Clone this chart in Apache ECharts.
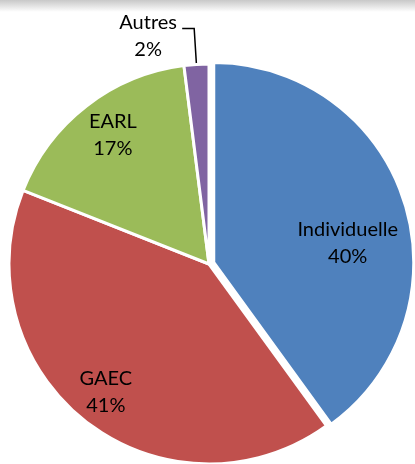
<!DOCTYPE html>
<html>
<head>
<meta charset="utf-8">
<script src="https://cdn.jsdelivr.net/npm/echarts@6/dist/echarts.min.js"></script>
<style>
  html, body { margin: 0; padding: 0; background: #fff; }
  #top { position: absolute; left: 0; top: 0; width: 415px; height: 12px;
         background: linear-gradient(#c8c8c8, #ffffff); }
  #chart { width: 415px; height: 464px; }
</style>
</head>
<body>
<div id="chart"></div>
<div id="top"></div>
<script>
const categories = ['Individuelle', 'GAEC', 'EARL', 'Autres'];
const shares = [40, 41, 17, 2];
const colors = ['#4F81BD', '#C0504D', '#9BBB59', '#8064A2'];

// nudges so inside labels sit where Excel put them
const labelShift = [[36, 12], [-40, 47], [-33, -48], [0, 0]];

const chart = echarts.init(document.getElementById('chart'), null, { renderer: 'canvas' });

chart.setOption({
  backgroundColor: '#fff',
  animation: false,
  series: [{
    type: 'pie',
    center: [209, 264],
    radius: 200,
    startAngle: 90,
    clockwise: true,
    selectedMode: 'multiple',
    selectedOffset: 5,
    data: categories.map((c, i) => ({
      name: c,
      value: shares[i],
      selected: i === 0,
      itemStyle: { color: colors[i] },
      label: i === 3 ? {
        position: 'outside',
        formatter: '{a|{b}}\n{a|{d}%}',
        padding: [15, 0, 0, 0],
        distanceToLabelLine: 5,
        rich: { a: { width: 58, align: 'center', fontSize: 20, lineHeight: 27, color: '#000', fontFamily: 'Lato' } },
      } : { position: 'inside' },
      labelLine: i === 3 ? { show: true, length: 36, length2: 12, lineStyle: { color: '#000', width: 1.5 } } : { show: false },
    })),
    itemStyle: { borderColor: '#fff', borderWidth: 3 },
    label: {
      formatter: '{b}\n{d}%',
      color: '#000',
      fontSize: 20,
      lineHeight: 27,
      fontFamily: 'Lato',
    },
    labelLayout: p => (p.dataIndex < 3 ? { dx: labelShift[p.dataIndex][0], dy: labelShift[p.dataIndex][1] } : {}),
    emphasis: { disabled: true },
  }],
});
</script>
</body>
</html>
